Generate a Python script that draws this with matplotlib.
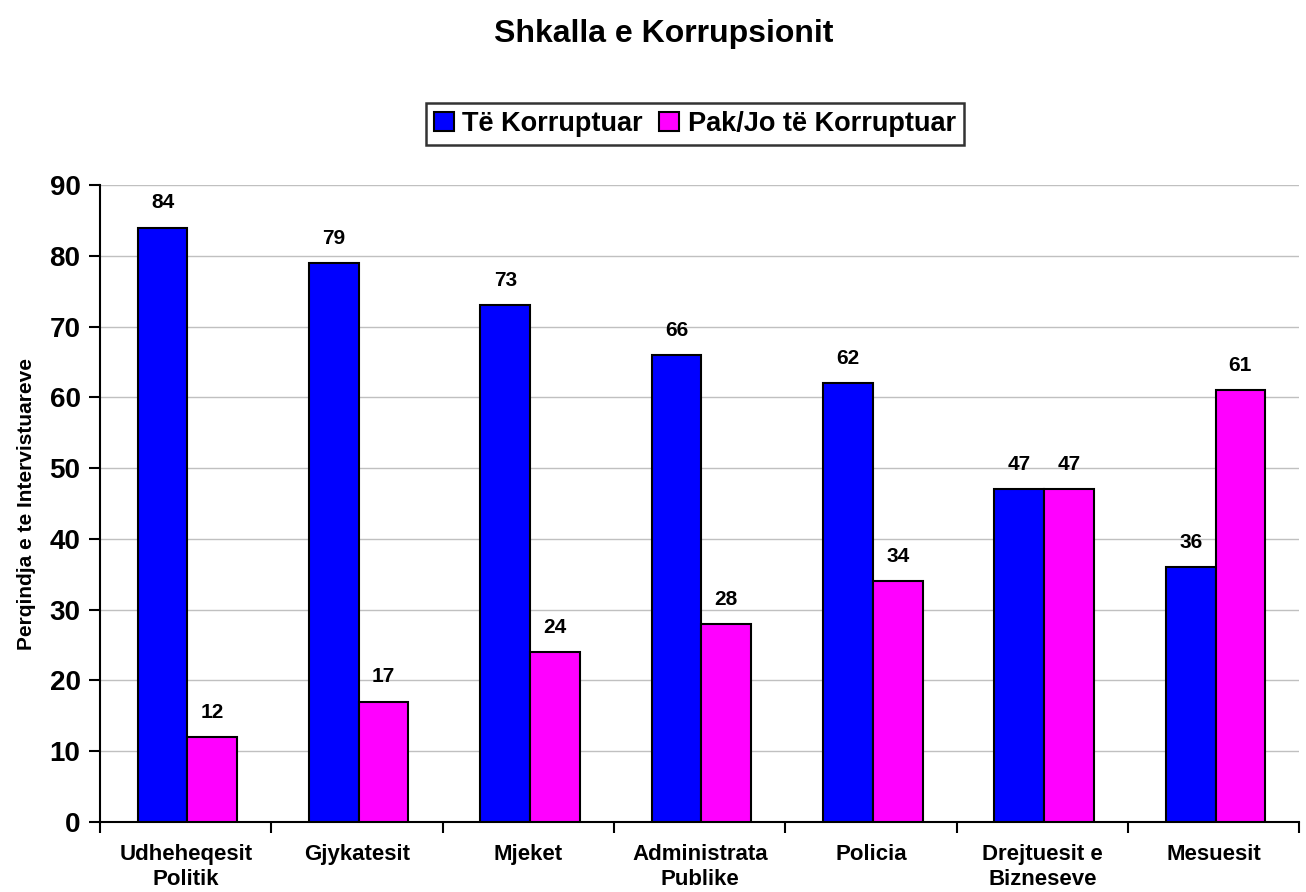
import matplotlib
matplotlib.use('Agg')
import matplotlib.pyplot as plt
import numpy as np

plt.rcParams['font.family'] = ['Liberation Sans', 'DejaVu Sans']
plt.rcParams['font.weight'] = 'bold'

# te dhenat
kategorite = ['Udheheqesit\nPolitik', 'Gjykatesit', 'Mjeket', 'Administrata\nPublike',
              'Policia', 'Drejtuesit e\nBizneseve', 'Mesuesit']
korruptuar = [84, 79, 73, 66, 62, 47, 36]
pak_jo = [12, 17, 24, 28, 34, 47, 61]
y_ticks = [0, 10, 20, 30, 40, 50, 60, 70, 80, 90]

fig = plt.figure(figsize=(13.06, 8.92), dpi=100)
ax = fig.add_axes([0.0766, 0.0785, 0.9184, 0.714])

x = np.arange(len(kategorite))
w = 0.29
b1 = ax.bar(x - w / 2 + 0.01, korruptuar, w, color='#0000FF', edgecolor='black',
            linewidth=1.5, label='Të Korruptuar', zorder=3)
b2 = ax.bar(x + w / 2 + 0.01, pak_jo, w, color='#FF00FF', edgecolor='black',
            linewidth=1.5, label='Pak/Jo të Korruptuar', zorder=3)

for bars in (b1, b2):
    for r in bars:
        ax.annotate(str(int(r.get_height())), (r.get_x() + r.get_width() / 2, r.get_height()),
                    xytext=(0, 11), textcoords='offset points', ha='center', va='bottom',
                    fontsize=15, fontweight='bold')

ax.set_xlim(-0.5, len(kategorite) - 0.5)
ax.set_ylim(0, 90)
ax.set_yticks(y_ticks)
ax.tick_params(axis='y', labelsize=20, length=8, width=1.5, direction='out', pad=6)
ax.set_xticks(x)
ax.set_xticklabels(kategorite, fontsize=16, fontweight='bold', linespacing=1.25)
ax.tick_params(axis='x', length=0, pad=16)
ax.set_xticks(np.arange(len(kategorite) + 1) - 0.5, minor=True)
ax.tick_params(axis='x', which='minor', length=8, width=1.5, direction='out')

ax.yaxis.grid(True, color='#C0C0C0', linewidth=1.0, zorder=0)
ax.set_axisbelow(True)
for s in ('top', 'right'):
    ax.spines[s].set_visible(False)
ax.spines['left'].set_linewidth(1.5)
ax.spines['bottom'].set_linewidth(1.5)

ax.set_ylabel('Perqindja e te Intervistuareve', fontsize=15, fontweight='bold', labelpad=10)

fig.text(0.508, 0.962, 'Shkalla e Korrupsionit', ha='center', va='center',
         fontsize=23, fontweight='bold')

leg = fig.legend(loc='center', bbox_to_anchor=(0.532, 0.861), ncol=2,
                 frameon=True, fancybox=False, edgecolor='black', handlelength=0.75,
                 handleheight=0.75, handletextpad=0.3, columnspacing=0.6,
                 borderpad=0.3, borderaxespad=0, prop={'weight': 'bold', 'size': 19.5})
leg.get_frame().set_linewidth(1.8)

fig.savefig('out.png', dpi=100)
